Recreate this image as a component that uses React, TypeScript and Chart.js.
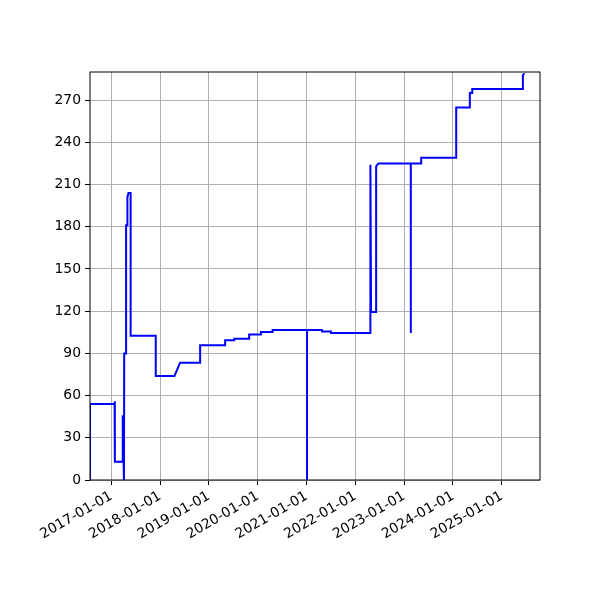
import { useEffect, useRef } from "react";
import { Chart, registerables } from "chart.js";

Chart.register(...registerables);

// step-like series: duplicated dates make the vertical jumps
const dates = [
  "2016-07-25", "2016-07-25", "2017-01-25", "2017-01-25", "2017-01-28", "2017-01-28",
  "2017-03-27", "2017-03-27", "2017-04-05", "2017-04-07", "2017-04-21", "2017-04-21",
  "2017-04-30", "2017-05-01", "2017-05-09", "2017-05-25", "2017-05-25",
  "2017-11-29", "2017-11-29", "2018-04-18", "2018-05-30", "2018-10-27", "2018-10-27",
  "2019-05-02", "2019-05-02", "2019-07-09", "2019-07-09", "2019-10-29", "2019-10-29",
  "2020-01-25", "2020-01-25", "2020-04-21", "2020-04-21",
  "2021-01-04", "2021-01-04", "2021-01-04", "2021-04-26", "2021-04-26",
  "2021-07-02", "2021-07-02", "2022-04-23", "2022-04-23", "2022-04-28",
  "2022-06-05", "2022-06-05", "2022-06-22", "2023-02-19", "2023-02-19", "2023-02-20",
  "2023-05-08", "2023-05-08", "2024-01-25", "2024-01-25", "2024-05-06", "2024-05-06",
  "2024-05-24", "2024-05-24", "2025-06-07", "2025-06-07", "2025-06-20",
];
const values = [
  0, 54, 54, 56, 56, 13,
  13, 46, 0, 90, 90, 181,
  181, 201, 204, 204, 102.5,
  102.5, 74, 74, 83.4, 83.4, 95.7,
  95.7, 99.3, 99.3, 100.4, 100.4, 103.5,
  103.5, 105.2, 105.2, 106.6,
  106.6, 0, 106.6, 106.6, 105.5,
  105.5, 104.5, 104.5, 224, 119.4,
  119.4, 223, 225, 225, 104.4, 225,
  225, 229, 229, 264.8, 264.8, 275,
  275, 278, 278, 287.8, 289,
];

const yTicks = [0, 30, 60, 90, 120, 150, 180, 210, 240, 270];
const xTickYears = [2017, 2018, 2019, 2020, 2021, 2022, 2023, 2024, 2025];
const xStart = "2016-07-25";
const xEnd = "2025-10-13";
const yMax = 290;

const framePlugin = {
  id: "frame",
  afterDraw(chart: any) {
    const { ctx, chartArea: a } = chart;
    ctx.save();
    ctx.strokeStyle = "#000";
    ctx.lineWidth = 1;
    ctx.strokeRect(a.left, a.top, a.right - a.left, a.bottom - a.top);
    ctx.restore();
  },
};

export default function App() {
  const canvasRef = useRef<HTMLCanvasElement>(null);

  useEffect(() => {
    if (!canvasRef.current) return;
    const font = { family: "DejaVu Sans", size: 13.9 };

    const chart = new Chart(canvasRef.current, {
      type: "line",
      data: {
        datasets: [
          {
            data: dates.map((d, i) => ({ x: Date.parse(d), y: values[i] })),
            borderColor: "#0000ff",
            borderWidth: 2,
            pointRadius: 0,
            tension: 0,
            fill: false,
          },
        ],
      },
      plugins: [framePlugin],
      options: {
        animation: false,
        responsive: false,
        devicePixelRatio: 1,
        layout: { padding: { left: 0, top: 72, right: 60, bottom: 0 } },
        plugins: { legend: { display: false }, tooltip: { enabled: false } },
        scales: {
          x: {
            type: "linear",
            min: Date.parse(xStart),
            max: Date.parse(xEnd),
            afterBuildTicks: (scale: any) => {
              scale.ticks = xTickYears.map((y) => ({ value: Date.UTC(y, 0, 1) }));
            },
            afterFit: (scale: any) => {
              scale.height = 120;
            },
            grid: { color: "#b0b0b0", lineWidth: 1, tickColor: "#000", tickLength: 5 },
            border: { display: false },
            ticks: {
              autoSkip: false,
              minRotation: 30,
              maxRotation: 30,
              padding: 3,
              color: "#000",
              font,
              callback: (v: any) => new Date(v).toISOString().slice(0, 10),
            },
          },
          y: {
            min: 0,
            max: yMax,
            afterBuildTicks: (scale: any) => {
              scale.ticks = yTicks.map((v) => ({ value: v }));
            },
            afterFit: (scale: any) => {
              scale.width = 90;
            },
            grid: { color: "#b0b0b0", lineWidth: 1, tickColor: "#000", tickLength: 5 },
            border: { display: false },
            ticks: { padding: 4, color: "#000", font },
          },
        },
      },
    });

    return () => {
      chart.destroy();
    };
  }, []);

  return (
    <div style={{ position: "fixed", left: 0, top: 0, width: 600, height: 600, background: "#fff" }}>
      <canvas ref={canvasRef} width={600} height={600}></canvas>
    </div>
  );
}
